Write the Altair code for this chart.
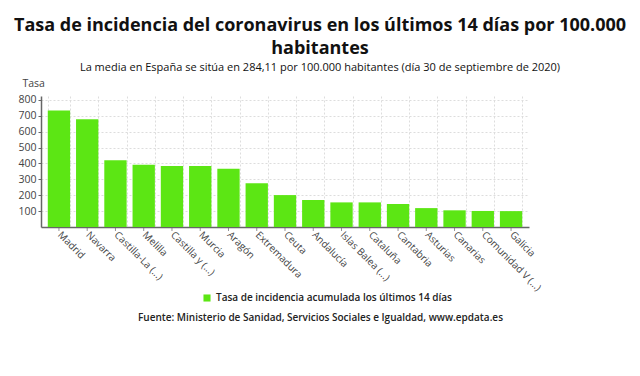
import altair as alt
import pandas as pd

regiones = ["Madrid", "Navarra", "Castilla-La (...)", "Melilla", "Castilla y (...)", "Murcia",
            "Aragón", "Extremadura", "Ceuta", "Andalucía", "Islas Balea (...)", "Cataluña",
            "Cantabria", "Asturias", "Canarias", "Comunidad V (...)", "Galicia"]
tasas = [734, 679, 421, 392, 384, 384, 367, 275, 201, 170, 155, 155, 145, 119, 105, 101, 100]
serie = "Tasa de incidencia acumulada los últimos 14 días"
y_ticks = [100, 200, 300, 400, 500, 600, 700, 800]

df = pd.DataFrame({"region": regiones, "tasa": tasas, "serie": [serie] * len(regiones)})

FONT = "Open Sans"
GREEN = "#5ce614"

x_enc = alt.X("region:N", sort=regiones,
              scale=alt.Scale(paddingInner=0.21, paddingOuter=0.24),
              axis=alt.Axis(labelAngle=45, labelAlign="left", labelBaseline="middle",
                            labelFontSize=10, labelColor="#444", labelFont=FONT,
                            labelPadding=6,
                            ticks=False, tickBand="extent", grid=True,
                            gridColor="#dddddd", gridDash=[2, 2],
                            domainColor="#666", domainWidth=1.5,
                            title="Fuente: Ministerio de Sanidad, Servicios Sociales e Igualdad, www.epdata.es",
                            titleFont=FONT, titleFontSize=10, titleFontWeight=600,
                            titleColor="#222", titleX=279, titleY=93, titleAlign="center",
                            titleBaseline="alphabetic"))

bars = alt.Chart(df).mark_bar().encode(
    x=x_enc,
    y=alt.Y("tasa:Q", scale=alt.Scale(domain=[0, 825], nice=False),
            axis=alt.Axis(values=y_ticks, labelFontSize=10.5, labelColor="#444",
                          labelFont=FONT, tickSize=3, tickColor="#666",
                          gridColor="#dddddd", gridDash=[2, 2],
                          domainColor="#666", domainWidth=1.5,
                          title="Tasa", titleAngle=0, titleX=-19, titleY=-13,
                          titleAlign="left", titleBaseline="middle",
                          titleFont=FONT, titleFontSize=10.5, titleFontWeight="normal",
                          titleColor="#444")),
    color=alt.Color("serie:N", scale=alt.Scale(range=[GREEN]),
                    legend=alt.Legend(title=None, orient="none", legendX=161, legendY=197,
                                      symbolType="square", symbolSize=50,
                                      symbolStrokeWidth=0, labelLimit=0,
                                      labelFont=FONT, labelFontSize=10, labelFontWeight=600,
                                      labelColor="#222"))
)

ticks = alt.Chart(df).mark_tick(orient="vertical", color="#666", size=4, thickness=1).encode(
    x=alt.X("region:N", sort=regiones),
    y=alt.value(133)
)

chart = alt.layer(bars, ticks).properties(
    width=488, height=131,
    autosize=alt.AutoSizeParams(type="none"),
    padding={"left": 33, "top": 88, "right": 103, "bottom": 141},
    title=alt.TitleParams(
        text=["Tasa de incidencia del coronavirus en los últimos 14 días por 100.000", "habitantes"],
        subtitle="La media en España se sitúa en 284,11 por 100.000 habitantes (día 30 de septiembre de 2020)",
        anchor="middle", dx=35, font=FONT, fontSize=18, fontWeight="bold", color="#111",
        lineHeight=23, subtitleFont=FONT, subtitleFontSize=11, subtitleColor="#111",
        subtitlePadding=4, offset=5)
).configure_view(stroke=None)

chart.save("out.html", embed_options={"renderer": "svg", "actions": False})
